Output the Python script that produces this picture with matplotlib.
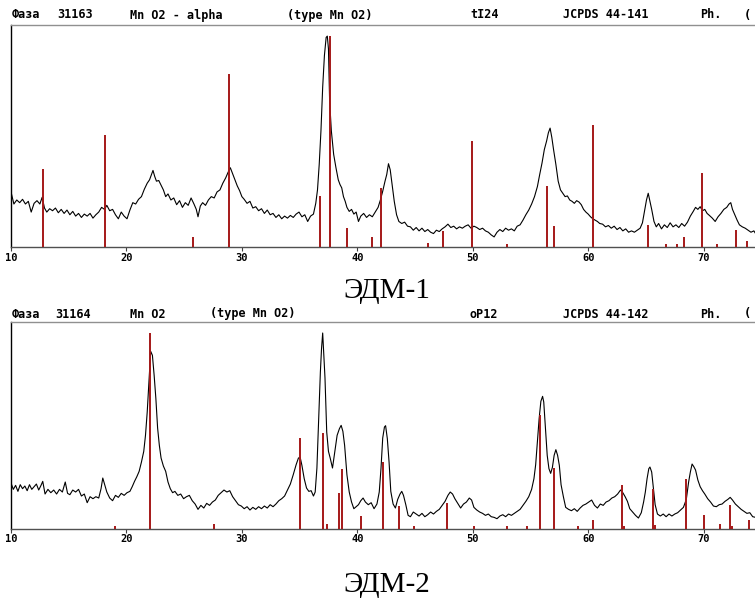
import matplotlib
matplotlib.use('Agg')
import matplotlib.pyplot as plt

# --- panel 1 (ЭДМ-1): measured pattern, 2theta vs intensity
x1 = [10.0, 10.25, 10.5, 10.75, 11.0, 11.25, 11.5, 11.75, 12.0, 12.25, 12.5, 12.7, 12.9, 13.1, 13.35,
      13.6, 13.85, 14.1, 14.35, 14.6, 14.85, 15.1, 15.35, 15.6, 15.85, 16.1, 16.35, 16.6, 16.85, 17.1,
      17.35, 17.6, 17.85, 18.1, 18.3, 18.55, 18.8, 19.05, 19.3, 19.55, 19.8, 20.05, 20.3, 20.55, 20.8,
      21.05, 21.3, 21.55, 21.8, 22.0, 22.15, 22.3, 22.45, 22.6, 22.8, 23.0, 23.2, 23.4, 23.6, 23.85,
      24.1, 24.35, 24.6, 24.85, 25.1, 25.35, 25.6, 25.85, 26.05, 26.2, 26.4, 26.6, 26.85, 27.1, 27.35,
      27.6, 27.85, 28.1, 28.35, 28.6, 28.8, 29.0, 29.2, 29.4, 29.6, 29.8, 30.0, 30.2, 30.45, 30.7,
      30.95, 31.2, 31.45, 31.7, 31.95, 32.2, 32.45, 32.7, 32.95, 33.2, 33.45, 33.7, 33.95, 34.2, 34.45,
      34.7, 34.95, 35.2, 35.45, 35.7, 35.95, 36.2, 36.4, 36.55, 36.7, 36.85, 37.0, 37.15, 37.3, 37.4,
      37.5, 37.6, 37.75, 37.95, 38.15, 38.35, 38.5, 38.65, 38.8, 38.95, 39.1, 39.3, 39.5, 39.7, 39.9,
      40.1, 40.3, 40.55, 40.8, 41.05, 41.3, 41.55, 41.8, 42.0, 42.2, 42.4, 42.55, 42.7, 42.85, 43.0,
      43.2, 43.4, 43.6, 43.85, 44.1, 44.35, 44.6, 44.85, 45.1, 45.35, 45.6, 45.85, 46.1, 46.35, 46.6,
      46.85, 47.1, 47.35, 47.6, 47.85, 48.1, 48.35, 48.6, 48.85, 49.1, 49.35, 49.6, 49.85, 50.1, 50.35,
      50.6, 50.85, 51.1, 51.35, 51.6, 51.85, 52.1, 52.35, 52.6, 52.85, 53.1, 53.35, 53.6, 53.85, 54.1,
      54.35, 54.6, 54.85, 55.1, 55.35, 55.6, 55.8, 56.0, 56.2, 56.4, 56.55, 56.7, 56.85, 57.0, 57.2,
      57.4, 57.6, 57.8, 58.0, 58.2, 58.4, 58.6, 58.8, 59.0, 59.2, 59.4, 59.6, 59.8, 60.0, 60.2,
      60.4, 60.6, 60.8, 61.0, 61.25, 61.5, 61.75, 62.0, 62.25, 62.5, 62.75, 63.0, 63.25, 63.5, 63.75,
      64.0, 64.25, 64.5, 64.7, 64.9, 65.05, 65.2, 65.35, 65.5, 65.7, 65.9, 66.1, 66.35, 66.6, 66.85,
      67.1, 67.35, 67.6, 67.85, 68.1, 68.35, 68.6, 68.85, 69.1, 69.3, 69.5, 69.7, 69.9, 70.1, 70.3,
      70.5, 70.75, 71.0, 71.25, 71.5, 71.75, 72.0, 72.2, 72.35, 72.5, 72.7, 72.9, 73.1, 73.35, 73.6,
      73.85, 74.1, 74.35, 74.5]
y1 = [164, 128, 140, 132, 142, 128, 136, 104, 130, 138, 128, 148, 116, 104, 114,
      108, 116, 102, 112, 100, 110, 96, 106, 92, 100, 88, 98, 92, 100, 86,
      96, 104, 118, 112, 124, 108, 112, 96, 84, 104, 92, 84, 110, 132, 128,
      142, 150, 172, 190, 200, 214, 228, 210, 196, 198, 184, 170, 150, 158, 140,
      146, 126, 138, 118, 132, 124, 146, 128, 112, 90, 122, 132, 124, 140, 150,
      146, 164, 170, 190, 206, 222, 236, 218, 200, 182, 168, 150, 142, 130, 136,
      116, 120, 108, 114, 100, 110, 96, 100, 88, 96, 84, 92, 86, 94, 88,
      98, 104, 90, 96, 76, 92, 98, 130, 170, 246, 346, 476, 570, 624, 628,
      590, 436, 346, 276, 236, 200, 186, 176, 150, 136, 118, 106, 112, 98, 104,
      76, 92, 100, 88, 96, 90, 104, 118, 140, 166, 196, 216, 248, 230, 190,
      136, 96, 76, 70, 74, 62, 60, 50, 58, 48, 56, 46, 52, 44, 40,
      50, 46, 54, 60, 68, 58, 62, 54, 60, 56, 62, 66, 56, 62, 58,
      52, 56, 48, 44, 36, 30, 44, 52, 46, 56, 50, 54, 48, 62, 66,
      80, 96, 110, 128, 150, 180, 216, 250, 290, 316, 340, 354, 326, 290, 246,
      196, 170, 160, 150, 152, 140, 136, 130, 138, 134, 126, 112, 104, 98, 90,
      84, 80, 76, 70, 68, 60, 64, 56, 62, 52, 58, 48, 54, 44, 48,
      44, 50, 56, 72, 110, 140, 160, 136, 112, 76, 60, 70, 54, 66, 58,
      72, 60, 66, 58, 70, 62, 74, 92, 106, 118, 112, 120, 108, 112, 100,
      94, 86, 76, 90, 100, 112, 118, 128, 132, 112, 96, 80, 66, 60, 56,
      50, 44, 48, 40]

# reference card JCPDS 44-141: line positions and heights
ref1_pos = [12.8, 18.14, 25.78, 28.9, 36.8, 37.6, 39.1, 41.26, 42.05, 46.14, 47.44, 49.9, 52.95,
            56.45, 57.04, 60.38, 65.18, 66.76, 67.68, 68.3, 69.85, 71.2, 72.77, 73.77]
ref1_h = [232, 333, 31, 514, 152, 628, 58, 31, 177, 13, 49, 315, 8,
          183, 64, 364, 66, 8, 8, 31, 220, 8, 51, 19]

# --- panel 2 (ЭДМ-2)
x2 = [10.0, 10.2, 10.4, 10.6, 10.8, 11.0, 11.2, 11.4, 11.6, 11.8, 12.0, 12.2, 12.4, 12.6, 12.75,
      12.95, 13.2, 13.45, 13.7, 13.95, 14.2, 14.45, 14.7, 14.9, 15.1, 15.35, 15.6, 15.85, 16.1, 16.35,
      16.6, 16.85, 17.1, 17.35, 17.6, 17.8, 17.95, 18.1, 18.3, 18.55, 18.8, 19.05, 19.3, 19.55, 19.8,
      20.05, 20.3, 20.5, 20.7, 20.9, 21.1, 21.3, 21.5, 21.65, 21.8, 21.9, 22.0, 22.1, 22.25, 22.4,
      22.55, 22.7, 22.85, 23.0, 23.2, 23.4, 23.6, 23.8, 24.0, 24.2, 24.45, 24.7, 24.95, 25.2, 25.45,
      25.7, 25.95, 26.2, 26.45, 26.7, 26.95, 27.2, 27.45, 27.7, 27.95, 28.2, 28.45, 28.7, 28.95, 29.2,
      29.45, 29.7, 29.95, 30.2, 30.45, 30.7, 30.95, 31.2, 31.45, 31.7, 31.95, 32.2, 32.45, 32.7, 32.95,
      33.2, 33.45, 33.7, 33.95, 34.2, 34.45, 34.7, 34.9, 35.05, 35.2, 35.4, 35.6, 35.8, 36.0, 36.2,
      36.35, 36.5, 36.65, 36.8, 36.9, 37.0, 37.1, 37.2, 37.35, 37.5, 37.65, 37.85, 38.05, 38.25, 38.45,
      38.6, 38.75, 38.9, 39.1, 39.3, 39.5, 39.7, 39.9, 40.1, 40.3, 40.5, 40.7, 40.95, 41.2, 41.45,
      41.7, 41.9, 42.05, 42.2, 42.35, 42.45, 42.6, 42.75, 42.9, 43.1, 43.3, 43.5, 43.7, 43.85, 44.0,
      44.2, 44.4, 44.6, 44.85, 45.1, 45.35, 45.6, 45.85, 46.1, 46.35, 46.6, 46.85, 47.1, 47.35, 47.6,
      47.85, 48.05, 48.25, 48.45, 48.7, 48.95, 49.2, 49.45, 49.7, 49.9, 50.1, 50.35, 50.6, 50.85, 51.1,
      51.35, 51.6, 51.85, 52.1, 52.35, 52.6, 52.85, 53.1, 53.35, 53.6, 53.85, 54.1, 54.35, 54.6, 54.85,
      55.1, 55.3, 55.45, 55.6, 55.75, 55.9, 56.05, 56.15, 56.3, 56.45, 56.6, 56.75, 56.9, 57.05, 57.2,
      57.35, 57.5, 57.65, 57.85, 58.05, 58.3, 58.55, 58.8, 59.05, 59.3, 59.55, 59.8, 60.05, 60.3, 60.55,
      60.8, 61.05, 61.3, 61.55, 61.8, 62.05, 62.3, 62.55, 62.8, 63.0, 63.2, 63.4, 63.6, 63.85, 64.1,
      64.35, 64.6, 64.8, 64.95, 65.1, 65.25, 65.35, 65.5, 65.65, 65.8, 66.0, 66.25, 66.5, 66.75, 67.0,
      67.25, 67.5, 67.75, 68.0, 68.25, 68.5, 68.7, 68.85, 69.0, 69.15, 69.3, 69.5, 69.7, 69.9, 70.1,
      70.35, 70.6, 70.85, 71.1, 71.35, 71.6, 71.85, 72.1, 72.3, 72.5, 72.75, 73.0, 73.25, 73.5, 73.75,
      74.0, 74.25, 74.5]
y2 = [137, 118, 130, 112, 132, 120, 128, 114, 132, 118, 126, 134, 116, 130, 142,
      104, 118, 108, 116, 104, 118, 110, 140, 106, 102, 116, 110, 118, 98, 104,
      78, 96, 90, 96, 92, 120, 152, 134, 110, 92, 84, 100, 94, 106, 100,
      108, 112, 126, 142, 156, 172, 200, 232, 280, 350, 412, 470, 532, 520, 460,
      390, 302, 250, 212, 188, 172, 140, 120, 108, 112, 100, 104, 90, 96, 100,
      84, 74, 58, 70, 62, 76, 70, 80, 86, 100, 108, 116, 110, 114, 96,
      84, 72, 68, 60, 66, 56, 64, 58, 66, 60, 68, 62, 72, 66, 74,
      84, 90, 98, 116, 134, 162, 192, 212, 214, 190, 150, 122, 112, 114, 98,
      110, 182, 330, 470, 540, 587, 520, 452, 290, 232, 212, 182, 232, 280, 300,
      310, 292, 250, 162, 110, 80, 60, 66, 72, 84, 92, 80, 72, 78, 60,
      74, 110, 180, 272, 305, 309, 270, 200, 112, 74, 62, 88, 104, 112, 100,
      72, 40, 36, 50, 44, 38, 46, 36, 42, 50, 44, 52, 58, 70, 82,
      100, 110, 104, 90, 76, 62, 74, 80, 92, 86, 64, 56, 50, 46, 40,
      44, 36, 34, 30, 38, 42, 36, 44, 40, 46, 52, 58, 70, 82, 96,
      118, 150, 192, 260, 330, 382, 397, 380, 302, 220, 180, 166, 184, 220, 237,
      220, 190, 132, 96, 64, 58, 54, 60, 52, 62, 70, 74, 80, 86, 70,
      62, 74, 70, 80, 84, 92, 96, 104, 116, 108, 96, 82, 60, 50, 40,
      32, 48, 80, 110, 150, 180, 185, 170, 120, 72, 44, 38, 44, 36, 44,
      38, 44, 48, 56, 64, 88, 140, 170, 194, 186, 176, 146, 126, 114, 104,
      90, 80, 68, 66, 72, 74, 82, 88, 94, 86, 74, 66, 58, 52, 46,
      48, 36, 34]

# reference card JCPDS 44-142
ref2_pos = [18.97, 22.0, 27.6, 35.04, 37.0, 37.38, 38.38, 38.7, 40.34, 42.26, 43.64, 44.93, 47.77,
            50.15, 52.95, 54.66, 55.8, 57.04, 59.12, 60.38, 62.92, 63.1, 65.6, 65.8, 68.5, 70.0,
            71.4, 72.3, 72.5, 73.9]
ref2_h = [7, 587, 14, 272, 287, 14, 107, 179, 37, 200, 67, 7, 77,
          7, 7, 7, 342, 182, 7, 25, 132, 7, 120, 12, 148, 42,
          14, 72, 7, 25]

ticks = [10, 20, 30, 40, 50, 60, 70]

W, H = 755, 605
mono = 'DejaVu Sans Mono'
red = '#a51818'

fig = plt.figure(figsize=(W / 100, H / 100), dpi=100)


def header(y, parts):
    for px, s in parts:
        fig.text(px / W, 1 - y / H, s, ha='left', va='center', fontsize=8.5,
                 family=mono, weight='bold', color='black')


def panel(top, bottom, ymax, x, y, rpos, rh):
    ax = fig.add_axes([11 / W, 1 - bottom / H, 1 - 11 / W, (bottom - top) / H])
    ax.plot(x, y, color='black', lw=0.8, zorder=2)
    ax.vlines(rpos, 0, rh, color=red, lw=1.4, zorder=3)
    ax.set_xlim(10, 74.45)
    ax.set_ylim(0, ymax)
    ax.set_yticks([])
    ax.set_xticks(ticks)
    ax.set_xticklabels([str(t) for t in ticks], family=mono, weight='bold', fontsize=7.5)
    ax.tick_params(axis='x', direction='out', length=3, width=0.8, pad=1, color='#404040')
    ax.spines['right'].set_visible(False)
    ax.spines['left'].set_color('black')
    ax.spines['top'].set_color('#909090')
    ax.spines['bottom'].set_color('#505050')
    for s in ax.spines.values():
        s.set_linewidth(1.0)
    return ax


header(15, [(12, 'Фаза'), (57, '31163'), (130, 'Mn O2 - alpha'), (287, '(type Mn O2)'),
            (470, 'tI24'), (563, 'JCPDS 44-141'), (700, 'Ph.'), (744, '(')])
panel(25, 247, 661, x1, y1, ref1_pos, ref1_h)
fig.text(387 / W, 1 - 291 / H, 'ЭДМ-1', ha='center', va='center', fontsize=21,
         family='Liberation Serif')

header(314, [(12, 'Фаза'), (55, '31164'), (130, 'Mn O2'), (210, '(type Mn O2)'),
             (470, 'oP12'), (563, 'JCPDS 44-142'), (700, 'Ph.'), (744, '(')])
panel(322, 528.7, 620, x2, y2, ref2_pos, ref2_h)
fig.text(387 / W, 1 - 585 / H, 'ЭДМ-2', ha='center', va='center', fontsize=21,
         family='Liberation Serif')

fig.savefig('out.png', dpi=100)
